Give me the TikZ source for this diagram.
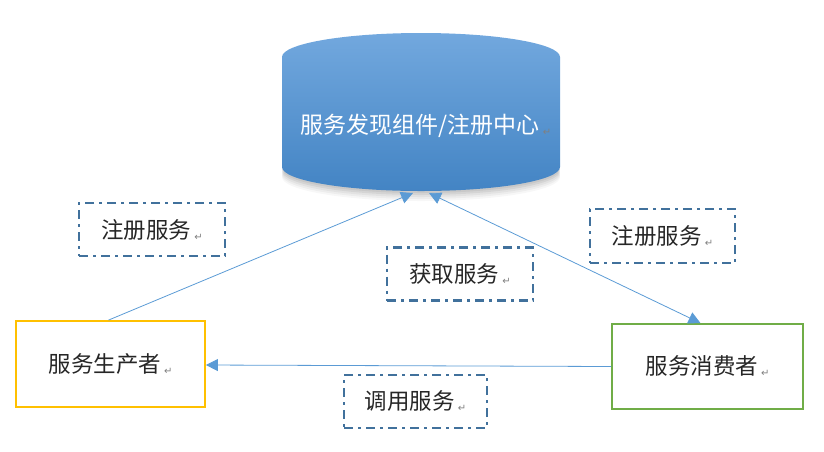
\documentclass[tikz,border=0pt]{standalone}
\usepackage{fontspec}
\setmainfont{Noto Sans CJK SC}
\newfontfamily\pmfont{DejaVu Sans}
\usetikzlibrary{arrows.meta}
\definecolor{linkblue}{HTML}{5B9BD5}
\definecolor{dashblue}{HTML}{41719C}
\definecolor{prodyellow}{HTML}{FFC000}
\definecolor{consgreen}{HTML}{70AD47}
\definecolor{cyltop}{HTML}{72A8DE}
\definecolor{cylbot}{HTML}{4384C4}
\newcommand{\pmark}{\hspace{3pt}{\pmfont\fontsize{10}{12}\selectfont\color{gray}\raisebox{-2pt}{↵}}}
\tikzset{
  lbl/.style={font=\fontsize{22.5}{26}\selectfont, text=black!85},
  dashbox/.style={draw=dashblue, line width=2.2pt, dash pattern=on 9pt off 5pt on 3pt off 5pt, minimum width=146pt, minimum height=53pt, inner sep=0pt, lbl},
  rolebox/.style={line width=1.8pt, minimum height=86pt, inner sep=0pt, lbl},
  link/.style={draw=linkblue, line width=0.8pt},
  tipA/.tip={Triangle[length=12pt,width=12pt,fill=linkblue]}
}
\begin{document}
\begin{tikzpicture}[x=1pt,y=-1pt]
\useasboundingbox (0,0) rectangle (824,451);
% shadow of cylinder
\foreach \d/\o in {1/0.06,3/0.06,5/0.05,7/0.04,9/0.03}{
  \fill[black,opacity=\o] (421,168+\d) ellipse [x radius=139, y radius=24];
}
% cylinder
\shade[top color=cyltop, bottom color=cylbot]
  (282,57) -- (282,167) arc[start angle=180, end angle=0, x radius=139, y radius=24]
  -- (560,57) arc[start angle=0, end angle=-180, x radius=139, y radius=24] -- cycle;
\node[font=\fontsize{23}{27}\selectfont, text=white] (reg) at (426,126) {服务发现组件/注册中心\pmark};
\coordinate (cylA) at (413,193);
\coordinate (cylB) at (429,193);
% role boxes
\node[rolebox, draw=prodyellow, minimum width=189pt] (prod) at (110.5,364) {服务生产者\pmark};
\node[rolebox, draw=consgreen, minimum width=191pt, minimum height=85pt] (cons) at (707.5,366.5) {服务消费者\pmark};
% label boxes
\node[dashbox] (reg1) at (152,229.5) {注册服务\pmark};
\node[dashbox] (get) at (460,274) {获取服务\pmark};
\node[dashbox, minimum width=145pt, minimum height=54pt] (reg2) at (662.5,236) {注册服务\pmark};
\node[dashbox, minimum width=143pt] (call) at (415.5,401.5) {调用服务\pmark};
% connectors
\draw[link, -tipA] ([xshift=-2pt]prod.north) -- (cylA);
\draw[link, tipA-tipA] (cylB) -- ([xshift=-7pt]cons.north);
\draw[link, -tipA] (cons.west) -- ([yshift=-1pt]prod.east);
\end{tikzpicture}
\end{document}
